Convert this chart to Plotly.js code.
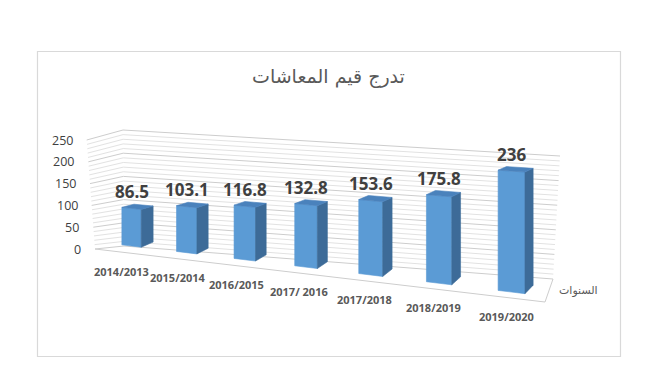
<!DOCTYPE html>
<html><head><meta charset="utf-8">
<script src="https://cdn.plot.ly/plotly-3.0.1.min.js"></script>
<style>html,body{margin:0;padding:0;background:#fff}#chart{width:670px;height:378px}</style>
</head><body><div id="chart"></div>
<script>
// ---------- data ----------
const categories = ['2014/2013','2015/2014','2016/2015','2017/ 2016','2017/2018','2018/2019','2019/2020'];
const values = [86.5, 103.1, 116.8, 132.8, 153.6, 175.8, 236];
const yTicks = [0, 50, 100, 150, 200, 250];
const yMax = 250;
const minorStep = 10;
const titleText = 'تدرج قيم المعاشات';
const depthAxisLabel = 'السنوات';

// ---------- projection (layout constants) ----------
const W = 670, H = 378;
const P = {a: 50.47, c: 131.5, g: -0.02514, d: 0.33, f: 246, e: 0.435};
function front(X, v) {
  const den = 1 + P.g * X;
  return [(P.a * X + P.c) / den, (P.d * X + P.f - P.e * v) / den];
}
function depthOff(X, v) { return [12 - 0.62 * X, -5 - 0.57 * X + 0.02 * v]; }
function barPt(X, v, z) {
  const p = front(X, v), o = depthOff(X, v);
  return [p[0] + z * o[0], p[1] + z * o[1]];
}
const nCat = categories.length;
function floorFront(X) {
  const t = (X + 0.5) / nCat;
  const p = front(X, 0);
  return [p[0] + (-10 + 5.7 * t), p[1] + (6.2 - 0.8 * t)];
}
const WALL = {ft: [86.7, 140], fb: [95, 249], bt: [123, 130], bb: [124, 246],
              rt: [560, 156], rb: [553, 279], fr: [545, 302]};
function lerp(a, b, t) { return [a[0] + (b[0] - a[0]) * t, a[1] + (b[1] - a[1]) * t]; }

const traces = [];
// ---------- gridlines on walls ----------
const maj = {x: [], y: []}, mnr = {x: [], y: []};
for (let v = 0; v <= yMax + 1e-9; v += minorStep) {
  const t = v / yMax;
  const isMajor = yTicks.indexOf(v) >= 0;
  const tgt = isMajor ? maj : mnr;
  const lf = lerp(WALL.fb, WALL.ft, t), lb = lerp(WALL.bb, WALL.bt, t), rb = lerp(WALL.rb, WALL.rt, t);
  tgt.x.push(lf[0], lb[0], rb[0], null);
  tgt.y.push(lf[1], lb[1], rb[1], null);
}
traces.push({x: mnr.x, y: mnr.y, mode: 'lines', line: {color: '#E2E2E2', width: 1}, hoverinfo: 'skip'});
traces.push({x: maj.x, y: maj.y, mode: 'lines', line: {color: '#CDCDCD', width: 1}, hoverinfo: 'skip'});
// floor edges
const fr = floorFront(nCat - 0.5);
traces.push({x: [WALL.fb[0], fr[0], WALL.rb[0]], y: [WALL.fb[1], fr[1], WALL.rb[1]],
  mode: 'lines', line: {color: '#CDCDCD', width: 1}, hoverinfo: 'skip'});

// ---------- bars ----------
const hw = 0.18;
function poly(pts, color) {
  traces.push({x: pts.map(p => p[0]).concat([pts[0][0]]), y: pts.map(p => p[1]).concat([pts[0][1]]),
    mode: 'lines', fill: 'toself', fillcolor: color, line: {color: color, width: 0.6}, hoverinfo: 'skip'});
}
values.forEach((v, i) => {
  const X = i;
  poly([barPt(X - hw, 0, 0), barPt(X + hw, 0, 0), barPt(X + hw, v, 0), barPt(X - hw, v, 0)], '#5B9BD5');
  poly([barPt(X + hw, 0, 0), barPt(X + hw, 0, 1), barPt(X + hw, v, 1), barPt(X + hw, v, 0)], '#3D6B98');
  poly([barPt(X - hw, v, 0), barPt(X + hw, v, 0), barPt(X + hw, v, 1), barPt(X - hw, v, 1)], '#4A82BC');
});

// ---------- texts ----------
const ann = [];
values.forEach((v, i) => {
  const p = barPt(i, v, 0);
  ann.push({x: p[0], y: p[1], text: '<b>' + String(v) + '</b>', showarrow: false, xanchor: 'center', yanchor: 'middle', yshift: 17,
    font: {family: 'Open Sans, sans-serif', size: 17, color: '#404040'}});
});
categories.forEach((c, i) => {
  const p = floorFront(i);
  ann.push({x: p[0], y: p[1], text: '<b>' + c + '</b>', showarrow: false, xanchor: 'center', yanchor: 'middle', yshift: -19,
    font: {family: 'Open Sans, sans-serif', size: 11, color: '#595959'}});
});
yTicks.forEach(v => {
  const p = lerp(WALL.fb, WALL.ft, v / yMax);
  ann.push({x: p[0], y: p[1], text: String(v), showarrow: false, xanchor: 'right', yanchor: 'middle', xshift: -12,
    font: {family: 'Open Sans, sans-serif', size: 12.5, color: '#404040'}});
});
const dm = lerp(fr, WALL.rb, 0.5);
ann.push({x: dm[0], y: dm[1], text: depthAxisLabel, showarrow: false, xanchor: 'left', yanchor: 'middle', xshift: 8,
  font: {family: 'DejaVu Sans, sans-serif', size: 11, color: '#595959'}});
ann.push({x: 328, y: 76, text: titleText, showarrow: false, xanchor: 'center', yanchor: 'middle',
  font: {family: 'DejaVu Sans, sans-serif', size: 19, color: '#595959'}});

const layout = {
  width: W, height: H, autosize: false, showlegend: false, hovermode: false,
  margin: {l: 0, r: 0, t: 0, b: 0, pad: 0},
  paper_bgcolor: '#fff', plot_bgcolor: '#fff',
  xaxis: {range: [0, W], visible: false, fixedrange: true},
  yaxis: {range: [H, 0], visible: false, fixedrange: true},
  annotations: ann,
  shapes: [{type: 'rect', xref: 'x', yref: 'y', x0: 37.5, y0: 51.5, x1: 620.5, y1: 356.5,
    line: {color: '#D9D9D9', width: 1.2}, fillcolor: 'rgba(0,0,0,0)', layer: 'below'}]
};
Plotly.newPlot('chart', traces, layout, {staticPlot: true, displayModeBar: false});
</script></body></html>
